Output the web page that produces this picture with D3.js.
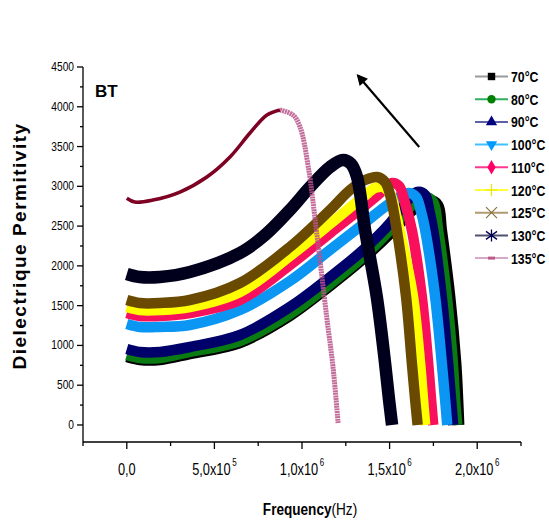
<!DOCTYPE html>
<html><head><meta charset="utf-8">
<script src="https://cdn.jsdelivr.net/npm/d3@7"></script>
<style>body{margin:0;background:#fff}</style>
</head><body>
<svg id="c" width="549" height="527"></svg>
<script>
// ---- data (frequency in MHz, dielectric permittivity) ----
const seriesNames = ["70°C","80°C","90°C","100°C","110°C","120°C","125°C","130°C","135°C"];

const fMHz70  = [0,0.074,0.189,0.36,0.646,0.931,1.16,1.349,1.514,1.634,1.731,1.777,1.798,1.846,1.88,1.891,1.897];
const eps70   = [855,817,817,892,1031,1370,1747,2086,2426,2702,2828,2765,2451,1609,779,314,0];

const fMHz80  = [0,0.074,0.189,0.36,0.646,0.931,1.16,1.349,1.503,1.617,1.703,1.749,1.777,1.827,1.861,1.874,1.886];
const eps80   = [880,842,842,918,1056,1395,1772,2112,2451,2740,2866,2803,2451,1609,779,314,0];

const fMHz90  = [0,0.074,0.189,0.36,0.646,0.931,1.16,1.349,1.503,1.589,1.657,1.703,1.726,1.749,1.798,1.834,1.851,1.863];
const eps90   = [955,918,918,980,1131,1483,1860,2200,2539,2790,2929,2891,2702,2451,1609,779,314,0];

const fMHz100 = [0,0.074,0.189,0.36,0.646,0.931,1.16,1.349,1.503,1.606,1.651,1.68,1.703,1.76,1.798,1.817,1.829];
const eps100  = [1269,1232,1232,1257,1445,1810,2200,2526,2790,2916,2866,2677,2451,1609,779,314,0];

const fMHz110 = [0,0.074,0.189,0.36,0.646,0.931,1.16,1.349,1.446,1.514,1.554,1.583,1.627,1.684,1.72,1.737,1.749];
const eps110  = [1408,1370,1370,1408,1571,2011,2413,2740,2916,3042,3004,2828,2451,1609,779,314,0];

const fMHz120 = [0,0.074,0.189,0.36,0.646,0.931,1.16,1.349,1.417,1.463,1.503,1.537,1.57,1.634,1.674,1.691,1.703];
const eps120  = [1483,1445,1445,1483,1672,2124,2526,2866,2979,2991,2904,2639,2325,1609,779,314,0];

const fMHz125 = [0,0.074,0.189,0.36,0.646,0.931,1.16,1.274,1.36,1.429,1.474,1.503,1.541,1.594,1.627,1.646,1.66];
const eps125  = [1571,1533,1533,1571,1785,2237,2702,2954,3079,3117,3054,2891,2451,1609,779,314,0];

const fMHz130 = [0,0.074,0.189,0.36,0.646,0.789,0.931,1.046,1.16,1.234,1.28,1.314,1.36,1.427,1.474,1.497,1.514];
const eps130  = [1898,1860,1860,1923,2162,2388,2702,2991,3243,3331,3281,3117,2451,1609,779,314,0];

const fMHz135 = [0,0.046,0.149,0.303,0.457,0.589,0.703,0.8,0.874,0.949,0.989,1.036,1.084,1.141,1.177,1.206];
const eps135  = [2850,2802,2827,2928,3117,3369,3670,3896,3960,3896,3745,3243,2413,1357,729,25];

const xTickValues = [0, 5e5, 1e6, 1.5e6, 2e6];
const xTickMain   = ["0,0", "5,0x10", "1,0x10", "1,5x10", "2,0x10"];
const xTickExp    = ["", "5", "6", "6", "6"];
const yTickValues = [0,500,1000,1500,2000,2500,3000,3500,4000,4500];

// ---- styles ----
const bandColors   = ["#000000","#0a7a12","#00006a","#0a96f2","#f8105c","#ffff00","#6a4a00","#00001c","#7e0022"];
const legendLines  = ["#9a9a9a","#2fb060","#6060a8","#40c0ff","#ff3a8c","#ffff40","#b09a70","#505070","#d8a8c8"];
const symColors    = ["#000000","#008000","#000080","#0099ff","#ff0066","#e8e800","#8a7040","#000050","#c05888"];

const fList = [fMHz70,fMHz80,fMHz90,fMHz100,fMHz110,fMHz120,fMHz125,fMHz130,fMHz135];
const eList = [eps70,eps80,eps90,eps100,eps110,eps120,eps125,eps130,eps135];
const series = seriesNames.map((n,i)=>({name:n, pts: fList[i].map((f,j)=>({f:f*1e6, e:eList[i][j]}))}));

const svg = d3.select("#c");
const x = d3.scaleLinear().domain([-2.5e5, 2.25e6]).range([83, 521]);
const y = d3.scaleLinear().domain([-214, 4500]).range([442, 67]);
const SANS = "'Liberation Sans',Arial,sans-serif";

// condensed text helper
function ctext(px, py, size, sx, anchor, weight) {
  return svg.append("g").attr("transform",`translate(${px},${py}) scale(${sx},1)`)
    .append("text").attr("text-anchor",anchor||"start").attr("font-family",SANS)
    .attr("font-size",size).attr("font-weight",weight||"normal");
}

const line = d3.line().x(d=>x(d.f)).y(d=>y(d.e)).curve(d3.curveCatmullRom.alpha(0.5));

// bands
series.forEach((s,i)=>{
  if (i === 8) {
    const pk = d3.maxIndex(s.pts, d=>d.e);
    svg.append("path").attr("d", line(s.pts.slice(pk)))
      .attr("fill","none").attr("stroke","#b8548a").attr("stroke-width",5).attr("opacity",0.85)
      .attr("stroke-dasharray","2,0.6");
    svg.append("path").attr("d", line(s.pts.slice(0,pk+1)))
      .attr("fill","none").attr("stroke",bandColors[i]).attr("stroke-width",3.5)
      .attr("stroke-linejoin","round");
  } else {
    svg.append("path").attr("d", line(s.pts))
      .attr("fill","none").attr("stroke",bandColors[i])
      .attr("stroke-width", i===7 ? 12.5 : 10.5)
      .attr("stroke-linejoin","round");
  }
});

// axes
const axG = svg.append("g").attr("stroke","#000").attr("stroke-width",1.3);
axG.append("line").attr("x1",x(-2.5e5)).attr("x2",x(2.25e6)).attr("y1",y(-214)).attr("y2",y(-214));
axG.append("line").attr("x1",x(-2.5e5)).attr("x2",x(-2.5e5)).attr("y1",y(-214)).attr("y2",y(4500));
d3.range(-2.5e5, 2.26e6, 2.5e5).forEach(v=>{
  const major = xTickValues.some(t=>Math.abs(t-v)<1);
  axG.append("line").attr("x1",x(v)).attr("x2",x(v)).attr("y1",y(-214)).attr("y2",y(-214)+(major?7:4));
});
d3.range(250, 4500, 250).forEach(v=>{
  if (v % 500 !== 0) axG.append("line").attr("x1",x(-2.5e5)-3).attr("x2",x(-2.5e5)).attr("y1",y(v)).attr("y2",y(v));
});
yTickValues.forEach(v=>{
  axG.append("line").attr("x1",x(-2.5e5)-6).attr("x2",x(-2.5e5)).attr("y1",y(v)).attr("y2",y(v));
  ctext(x(-2.5e5)-9, y(v)+4, 12, 0.85, "end").text(v);
});
xTickValues.forEach((v,i)=>{
  const t = ctext(x(v), 475, 16, 0.8, "middle");
  t.append("tspan").text(xTickMain[i]);
  if (xTickExp[i]) t.append("tspan").attr("dy",-9).attr("dx",2).attr("font-size",10).text(xTickExp[i]);
});

// axis titles
svg.append("text").attr("transform","translate(26,246) rotate(-90)").attr("text-anchor","middle")
  .attr("font-family",SANS).attr("font-weight","bold")
  .attr("font-size",19).attr("letter-spacing",1.5).text("Dielectrique Permitivity");
const xt = ctext(310, 515, 17, 0.8, "middle");
xt.append("tspan").attr("font-weight","bold").text("Frequency");
xt.append("tspan").text("(Hz)");

// BT label
svg.append("text").attr("x",95).attr("y",97).attr("font-family",SANS)
  .attr("font-weight","bold").attr("font-size",17).text("BT");

// arrow
svg.append("defs").append("marker").attr("id","ah").attr("viewBox","0 0 10 10").attr("refX",8).attr("refY",5)
  .attr("markerWidth",6).attr("markerHeight",5).attr("orient","auto")
  .append("path").attr("d","M0,0L10,5L0,10z").attr("fill","#000");
svg.append("line").attr("x1",x(1.669e6)).attr("y1",y(3494)).attr("x2",x(1.32e6)).attr("y2",y(4390))
  .attr("stroke","#000").attr("stroke-width",2.2).attr("marker-end","url(#ah)");

// legend
const symTypes = [d3.symbolSquare,d3.symbolCircle,d3.symbolTriangle,d3.symbolTriangle,d3.symbolDiamond,"plus","x","star","dash"];
seriesNames.forEach((n,i)=>{
  const cy = 76.5 + i*22.7;
  const g = svg.append("g");
  g.append("line").attr("x1",475).attr("x2",508).attr("y1",cy).attr("y2",cy)
    .attr("stroke",legendLines[i]).attr("stroke-width",2);
  const t = symTypes[i];
  if (typeof t !== "string") {
    g.append("path").attr("d", d3.symbol().type(t).size(i===4?60:55)())
      .attr("transform",`translate(491.5,${cy}) ${i===3?"rotate(180)":""}`)
      .attr("fill",symColors[i]);
  } else if (t==="plus") {
    g.append("path").attr("d",`M491.5,${cy-6}V${cy+6}M485.5,${cy}H497.5`).attr("stroke",symColors[i]).attr("stroke-width",1.2);
  } else if (t==="x") {
    g.append("path").attr("d",`M486,${cy-5.5}L497,${cy+5.5}M486,${cy+5.5}L497,${cy-5.5}`).attr("stroke",symColors[i]).attr("stroke-width",1.2);
  } else if (t==="star") {
    g.append("path").attr("d",`M491.5,${cy-6}V${cy+6}M486,${cy-4}L497,${cy+4}M486,${cy+4}L497,${cy-4}`).attr("stroke",symColors[i]).attr("stroke-width",1.3);
  } else {
    g.append("rect").attr("x",488).attr("y",cy-1.5).attr("width",7).attr("height",3).attr("fill",symColors[i]);
  }
  ctext(511, cy+5.5, 15, 0.82, "start", "bold").text(n);
});
</script>
</body></html>
